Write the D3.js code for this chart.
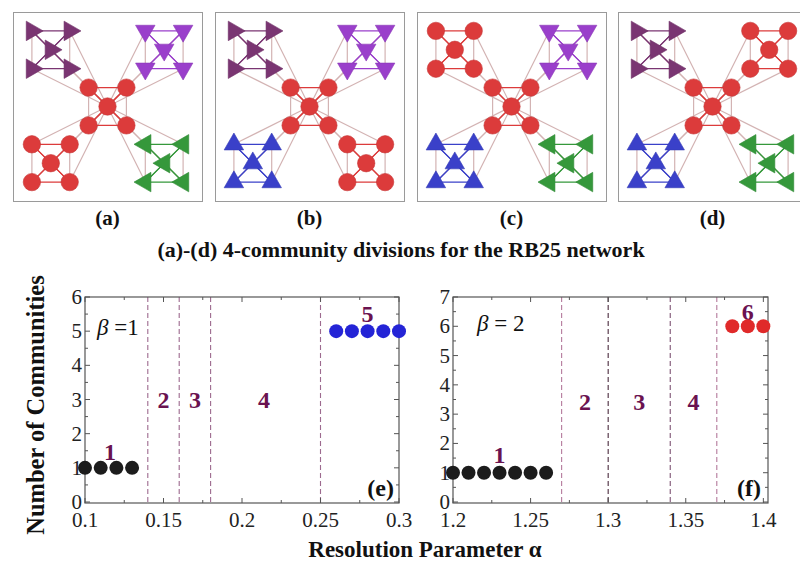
<!DOCTYPE html>
<html>
<head>
<meta charset="utf-8">
<script src="https://cdn.jsdelivr.net/npm/d3@7/dist/d3.min.js"></script>
<style>
  html, body { margin: 0; padding: 0; background: #fff; }
  svg { display: block; }
</style>
</head>
<body>
<svg id="fig" width="800" height="562" font-family="'Liberation Serif', 'Times New Roman', Times, serif"></svg>
<script>
// ---------- network panels (a)-(d) ----------
const panelLabels = ["(a)", "(b)", "(c)", "(d)"];
// community of each 5-node module: top-left, top-right, centre, bottom-left, bottom-right
const divisionA = ["plum", "violet", "red", "red", "green"];
const divisionB = ["plum", "violet", "red", "blue", "red"];
const divisionC = ["red", "violet", "red", "blue", "green"];
const divisionD = ["plum", "red", "red", "blue", "green"];
const divisions = [divisionA, divisionB, divisionC, divisionD];
const figureTitle = "(a)-(d) 4-community divisions for the RB25 network";

// ---------- resolution scans (e) and (f) ----------
const alphaE = [0.10, 0.11, 0.12, 0.13, 0.26, 0.27, 0.28, 0.29, 0.30];
const countE = [1, 1, 1, 1, 5, 5, 5, 5, 5];
const boundariesE = [0.14, 0.16, 0.18, 0.25];
const regionTextE = ["1", "2", "3", "4", "5"];
const regionAlphaE = [0.116, 0.15, 0.17, 0.214, 0.28];
const regionCountE = [1.45, 3, 3, 3, 5.5];
const xTicksE = [0.1, 0.15, 0.2, 0.25, 0.3];
const xTickTextE = ["0.1", "0.15", "0.2", "0.25", "0.3"];
const yTicksE = [0, 1, 2, 3, 4, 5, 6];

const alphaF = [1.20, 1.21, 1.22, 1.23, 1.24, 1.25, 1.26, 1.38, 1.39, 1.40];
const countF = [1, 1, 1, 1, 1, 1, 1, 6, 6, 6];
const boundariesF = [1.27, 1.30, 1.34, 1.37];
const regionTextF = ["1", "2", "3", "4", "6"];
const regionAlphaF = [1.23, 1.285, 1.32, 1.355, 1.39];
const regionCountF = [1.6, 3.4, 3.4, 3.4, 6.5];
const xTicksF = [1.2, 1.25, 1.3, 1.35, 1.4];
const xTickTextF = ["1.2", "1.25", "1.3", "1.35", "1.4"];
const yTicksF = [0, 1, 2, 3, 4, 5, 6, 7];

const svg = d3.select("#fig");
const serif = "'Liberation Serif', 'Times New Roman', Times, serif";

// community styles
const commColor = {
  plum: "#7a3572", violet: "#9a3fcb", red: "#dc3b3b",
  green: "#35983b", blue: "#3a40c9"
};
const commShape = {
  plum: "right", violet: "down", red: "circle", green: "left", blue: "up"
};
const rotation = { up: 0, right: 90, down: 180, left: -90 };
const lightEdge = "#d3b3b3";

// RB25 layout in grid units: module centres and the four corners of a module
const moduleCentres = [[-3, -3], [3, -3], [0, 0], [-3, 3], [3, 3]];
const cornerOffsets = [[-1, -1], [1, -1], [-1, 1], [1, 1]];

const panelLeft = [13, 215, 417, 618];
const panelTop = 12, panelSize = 189;

panelLabels.forEach((label, p) => {
  const division = divisions[p];
  const x0 = panelLeft[p];
  const sx = d3.scaleLinear().domain([-5, 5]).range([x0, x0 + panelSize]);
  const sy = d3.scaleLinear().domain([-5, 5]).range([panelTop, panelTop + panelSize]);
  const g = svg.append("g");

  g.append("rect")
    .attr("x", x0 + 0.5).attr("y", panelTop + 0.5)
    .attr("width", panelSize).attr("height", panelSize)
    .attr("fill", "#fff").attr("stroke", "#9a9a9a").attr("stroke-width", 1);

  // build nodes: per module, centre node then four corners
  const nodes = [];
  moduleCentres.forEach((mc, m) => {
    nodes.push({ m, hub: true, x: mc[0], y: mc[1], comm: division[m] });
    cornerOffsets.forEach(o => nodes.push({ m, hub: false, x: mc[0] + o[0], y: mc[1] + o[1], comm: division[m] }));
  });
  const globalHub = nodes.find(n => n.m === 2 && n.hub);

  const edges = [];
  // external links: every corner of a peripheral module to the global hub
  nodes.filter(n => n.m !== 2 && !n.hub).forEach(n => edges.push({ a: n, b: globalHub, col: lightEdge }));
  // complete graph inside each module
  moduleCentres.forEach((mc, m) => {
    const mn = nodes.filter(n => n.m === m);
    for (let i = 0; i < mn.length; i++) {
      for (let j = i + 1; j < mn.length; j++) {
        const a = mn[i], b = mn[j];
        const vertical = a.x === b.x && !a.hub && !b.hub;
        edges.push({ a, b, col: vertical ? lightEdge : commColor[division[m]], inner: !vertical });
      }
    }
  });
  edges.sort((e1, e2) => (e1.inner ? 1 : 0) - (e2.inner ? 1 : 0));

  g.selectAll("line.edge").data(edges).join("line")
    .attr("x1", d => sx(d.a.x)).attr("y1", d => sy(d.a.y))
    .attr("x2", d => sx(d.b.x)).attr("y2", d => sy(d.b.y))
    .attr("stroke", d => d.col).attr("stroke-width", 1.2);

  const tri = d3.symbol().type(d3.symbolTriangle).size(165);
  nodes.forEach(n => {
    const shape = commShape[n.comm];
    const col = commColor[n.comm];
    if (shape === "circle") {
      g.append("circle").attr("cx", sx(n.x)).attr("cy", sy(n.y)).attr("r", 8.7)
        .attr("fill", col).attr("stroke", d3.color(col).darker(0.3)).attr("stroke-width", 0.6);
    } else {
      g.append("path").attr("d", tri())
        .attr("transform", `translate(${sx(n.x)},${sy(n.y)}) rotate(${rotation[shape]})`)
        .attr("fill", col).attr("stroke", d3.color(col).darker(0.3)).attr("stroke-width", 0.6);
    }
  });

  svg.append("text").attr("x", x0 + panelSize / 2).attr("y", 225)
    .attr("font-family", serif)
    .attr("text-anchor", "middle").attr("font-weight", "bold").attr("font-size", 21)
    .attr("fill", "#111").text(label);
});

svg.append("text").attr("x", 401).attr("y", 257)
  .attr("font-family", serif)
  .attr("text-anchor", "middle").attr("font-weight", "bold").attr("font-size", 22)
  .attr("fill", "#111").text(figureTitle);

// ---------- scan charts ----------
function scanChart(opt) {
  const x = d3.scaleLinear().domain(opt.xDomain).range(opt.xRange);
  const y = d3.scaleLinear().domain(opt.yDomain).range([502, 297]);
  const g = svg.append("g").attr("font-family", serif);
  const [L, R] = opt.xRange, T = 297, B = 503;

  // boundaries between community regimes
  g.selectAll("line.bound").data(opt.bounds).join("line")
    .attr("x1", d => x(d)).attr("x2", d => x(d)).attr("y1", T).attr("y2", B)
    .attr("stroke", (d, i) => opt.boundColors[i]).attr("stroke-width", 1.1)
    .attr("stroke-dasharray", "5,3");

  // ticks on all four sides, pointing inward
  const xMinor = d3.range(opt.xDomain[0] + opt.xStep / 2, opt.xDomain[1] + 1e-9, opt.xStep);
  const yMinor = d3.range(0.5, opt.yDomain[1], 1);
  const tickSets = [
    ...opt.xTicks.map(v => ({ v, len: 5, axis: "x" })),
    ...xMinor.map(v => ({ v, len: 3, axis: "x" })),
    ...opt.yTicks.map(v => ({ v, len: 5, axis: "y" })),
    ...yMinor.map(v => ({ v, len: 3, axis: "y" }))
  ];
  tickSets.forEach(t => {
    if (t.axis === "x") {
      const px = x(t.v);
      g.append("line").attr("x1", px).attr("x2", px).attr("y1", B).attr("y2", B - t.len).attr("stroke", "#555");
      g.append("line").attr("x1", px).attr("x2", px).attr("y1", T).attr("y2", T + t.len).attr("stroke", "#555");
    } else {
      const py = y(t.v);
      g.append("line").attr("x1", L).attr("x2", L + t.len).attr("y1", py).attr("y2", py).attr("stroke", "#555");
      g.append("line").attr("x1", R).attr("x2", R - t.len).attr("y1", py).attr("y2", py).attr("stroke", "#555");
    }
  });

  g.append("rect").attr("x", L).attr("y", T).attr("width", R - L).attr("height", B - T)
    .attr("fill", "none").attr("stroke", "#555").attr("stroke-width", 1.2);

  // tick labels
  g.selectAll("text.xt").data(opt.xTicks).join("text")
    .attr("x", d => x(d)).attr("y", 527).attr("text-anchor", "middle")
    .attr("font-size", 21).attr("fill", "#222").text((d, i) => opt.xTickText[i]);
  g.selectAll("text.yt").data(opt.yTicks).join("text")
    .attr("x", L - 3).attr("y", d => y(d) + 7).attr("text-anchor", "end")
    .attr("font-size", 21).attr("fill", "#222").text(d => d);

  // region numbers
  g.selectAll("text.reg").data(opt.regionText).join("text")
    .attr("x", (d, i) => x(opt.regionAlpha[i])).attr("y", (d, i) => y(opt.regionCount[i]) + 8)
    .attr("text-anchor", "middle").attr("font-weight", "bold").attr("font-size", 24)
    .attr("fill", "#6a1250").text(d => d);

  // beta annotation
  const bt = g.append("text").attr("x", opt.betaPos[0]).attr("y", opt.betaPos[1])
    .attr("font-size", 23).attr("fill", "#111");
  bt.append("tspan").attr("font-style", "italic").text("β");
  bt.append("tspan").text(opt.betaText);

  g.append("text").attr("x", opt.tagPos[0]).attr("y", 496).attr("text-anchor", "end")
    .attr("font-weight", "bold").attr("font-size", 24).attr("fill", "#111").text(opt.tag);

  // measured community counts
  g.selectAll("circle.pt").data(opt.alpha).join("circle")
    .attr("cx", d => x(d)).attr("cy", (d, i) => y(opt.count[i])).attr("r", 7)
    .attr("fill", (d, i) => opt.count[i] === 1 ? "#1c1c1c" : opt.dotColor);
}

scanChart({
  xDomain: [0.1, 0.3], xRange: [85, 399], yDomain: [0, 6], xStep: 0.05,
  xTicks: xTicksE, xTickText: xTickTextE, yTicks: yTicksE,
  alpha: alphaE, count: countE, dotColor: "#2424d6",
  bounds: boundariesE, boundColors: ["#9d6a8f", "#9d6a8f", "#9d6a8f", "#9d6a8f"],
  regionText: regionTextE, regionAlpha: regionAlphaE, regionCount: regionCountE,
  betaPos: [97, 335], betaText: " =1", tag: "(e)", tagPos: [394]
});

scanChart({
  xDomain: [1.2, 1.403], xRange: [453, 768], yDomain: [0, 7], xStep: 0.05,
  xTicks: xTicksF, xTickText: xTickTextF, yTicks: yTicksF,
  alpha: alphaF, count: countF, dotColor: "#e02a2a",
  bounds: boundariesF, boundColors: ["#b47a9c", "#4a2a3e", "#7d5273", "#b47a9c"],
  regionText: regionTextF, regionAlpha: regionAlphaF, regionCount: regionCountF,
  betaPos: [477, 331], betaText: " = 2", tag: "(f)", tagPos: [761]
});

// shared axis titles
svg.append("text").attr("transform", "translate(44,405) rotate(-90)")
  .attr("font-family", serif)
  .attr("text-anchor", "middle").attr("font-weight", "bold").attr("font-size", 24.5)
  .attr("fill", "#111").text("Number of Communities");
svg.append("text").attr("x", 425).attr("y", 557)
  .attr("font-family", serif)
  .attr("text-anchor", "middle").attr("font-weight", "bold").attr("font-size", 23)
  .attr("fill", "#111").text("Resolution Parameter α");
</script>
</body>
</html>
